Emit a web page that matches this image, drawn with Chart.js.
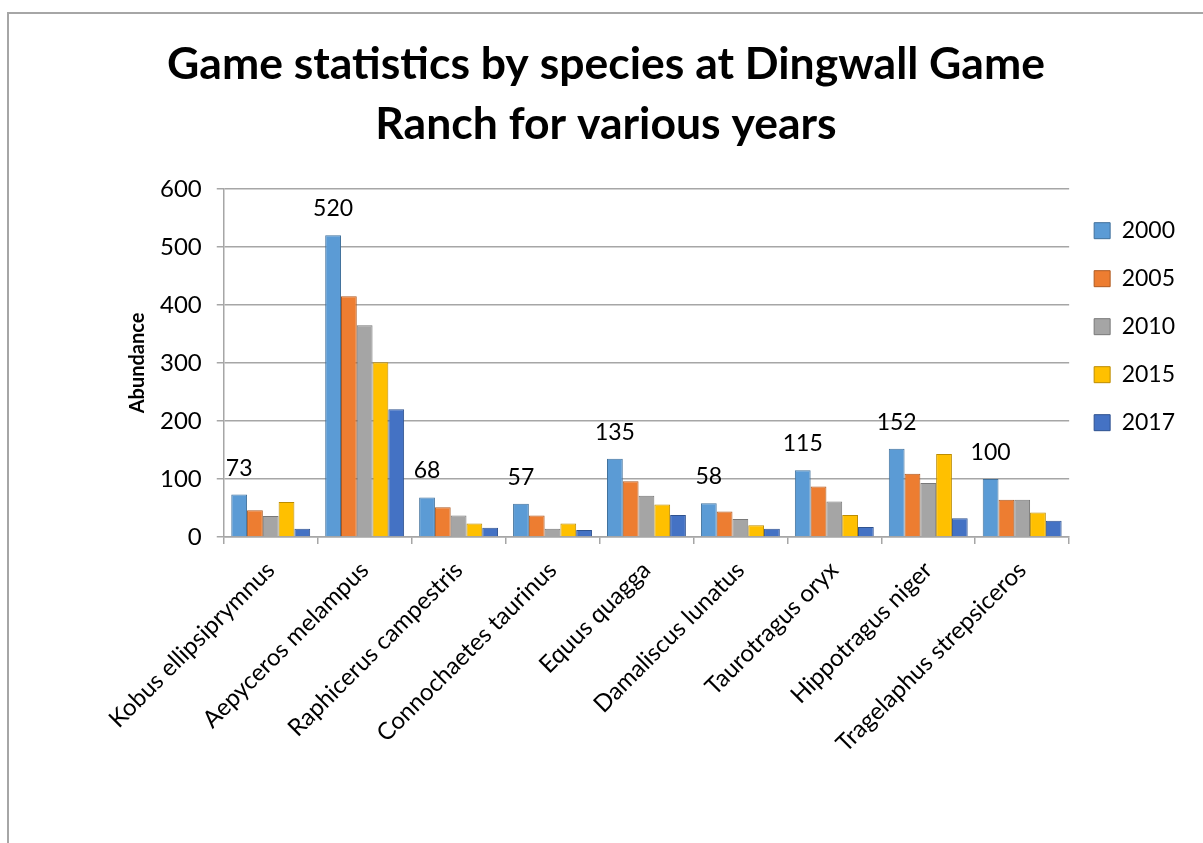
<!DOCTYPE html>
<html>
<head>
<meta charset="utf-8">
<title>Game statistics by species</title>
<script src="https://cdn.jsdelivr.net/npm/chart.js@4.4.0/dist/chart.umd.min.js"></script>
<style>
  html, body { margin: 0; padding: 0; background: #fff; }
  #frame {
    position: absolute; left: 7px; top: 12px;
    width: 1194px; height: 829px;
    border-left: 2px solid #a6a6a6; border-top: 2px solid #a6a6a6;
  }
  #chartBox { position: relative; width: 1194px; height: 829px; }
</style>
</head>
<body>
<div id="frame"><div id="chartBox"><canvas id="gameChart"></canvas></div></div>
<script>
// Species counted on the ranch (x categories)
const species = [
  'Kobus ellipsiprymnus', 'Aepyceros melampus', 'Raphicerus campestris',
  'Connochaetes taurinus', 'Equus quagga', 'Damaliscus lunatus',
  'Taurotragus oryx', 'Hippotragus niger', 'Tragelaphus strepsiceros'
];
const years = ['2000', '2005', '2010', '2015', '2017'];

// Abundance per survey year
const counts2000 = [73, 520, 68, 57, 135, 58, 115, 152, 100];
const counts2005 = [46, 415, 51, 37, 96, 44, 87, 109, 64];
const counts2010 = [36, 365, 37, 14, 71, 31, 61, 93, 64];
const counts2015 = [60, 301, 23, 23, 56, 20, 38, 143, 42];
const counts2017 = [14, 220, 16, 12, 38, 14, 17, 32, 28];

const yTicks = [0, 100, 200, 300, 400, 500, 600];

const fills   = ['#5B9BD5', '#ED7D31', '#A5A5A5', '#FFC000', '#4472C4'];
const strokes = ['#41719C', '#AE5A21', '#787878', '#BC8C00', '#2F528F'];
const series  = [counts2000, counts2005, counts2010, counts2015, counts2017];

const gridGrey = '#a6a6a6';
const fontFamily = 'Lato, "Open Sans", sans-serif';

// Only the 2000 series carries value labels above its bars
const barValueLabels = {
  id: 'barValueLabels',
  afterDatasetsDraw(chart) {
    const ctx = chart.ctx;
    const meta = chart.getDatasetMeta(0);
    ctx.save();
    ctx.font = '23px ' + fontFamily;
    ctx.fillStyle = '#000';
    ctx.textAlign = 'center';
    ctx.textBaseline = 'alphabetic';
    meta.data.forEach((bar, i) => {
      ctx.fillText(String(counts2000[i]), bar.x, bar.y - 19);
    });
    ctx.restore();
  }
};

function buildChart() {
  new Chart(document.getElementById('gameChart'), {
    type: 'bar',
    data: {
      labels: species,
      datasets: years.map((year, i) => ({
        label: year,
        data: series[i],
        backgroundColor: fills[i],
        borderColor: strokes[i],
        borderWidth: 1,
        categoryPercentage: 0.84,
        barPercentage: 1.0
      }))
    },
    options: {
      responsive: true,
      maintainAspectRatio: false,
      animation: false,
      // equal side padding keeps the title centred on the canvas
      layout: { padding: { left: 18, right: 18, top: 0, bottom: 73 } },
      plugins: {
        title: {
          display: true,
          text: ['Game statistics by species at Dingwall Game', 'Ranch for various years'],
          color: '#000',
          font: { family: fontFamily, size: 44.5, weight: 'bold', lineHeight: 1.348 },
          padding: { top: 21, bottom: 34 }
        },
        legend: {
          position: 'right',
          align: 'start',
          fullSize: false,
          // empty title just nudges the key down a little
          title: { display: true, text: ' ', font: { size: 1 }, padding: { top: 2, bottom: 2 } },
          labels: {
            boxWidth: 16,
            boxHeight: 16,
            padding: 25,
            color: '#000',
            font: { family: fontFamily, size: 23 }
          }
        },
        tooltip: { enabled: false }
      },
      scales: {
        x: {
          grid: { offset: true, drawOnChartArea: false, color: gridGrey, tickLength: 7, lineWidth: 1.5 },
          border: { color: gridGrey, width: 1.5 },
          ticks: {
            color: '#000',
            font: { family: fontFamily, size: 24 },
            minRotation: 45,
            maxRotation: 45,
            autoSkip: false,
            padding: 12
          }
        },
        y: {
          min: 0,
          max: 600,
          afterBuildTicks: (scale) => { scale.ticks = yTicks.map(v => ({ value: v })); },
          grid: { color: gridGrey, tickLength: 7, lineWidth: 1.5 },
          border: { color: gridGrey, width: 1.5 },
          ticks: {
            color: '#000',
            font: { family: fontFamily, size: 24 },
            padding: 15
          },
          title: {
            display: true,
            text: 'Abundance',
            color: '#000',
            font: { family: fontFamily, size: 20, weight: 'bold' },
            padding: { top: 99, bottom: -5 }
          }
        }
      }
    },
    plugins: [barValueLabels]
  });
}

if (document.fonts && document.fonts.load) {
  Promise.all([
    document.fonts.load('bold 45px Lato'),
    document.fonts.load('24px Lato')
  ]).then(buildChart, buildChart);
} else {
  buildChart();
}
</script>
</body>
</html>
